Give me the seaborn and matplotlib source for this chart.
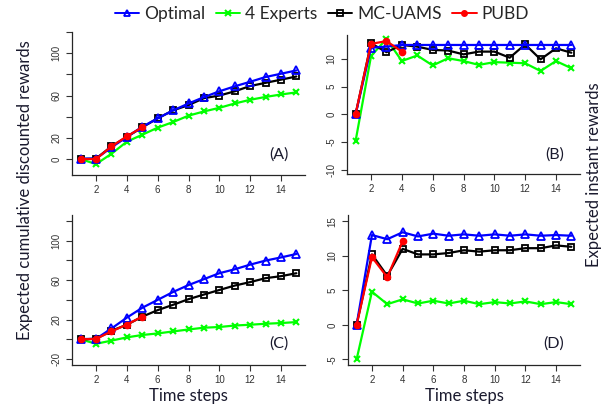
import numpy as np
import pandas as pd
import seaborn as sns
import matplotlib.pyplot as plt
from matplotlib.lines import Line2D

# Data
steps = list(range(1, 16))
pubd_steps = [1, 2, 3, 4, 5]
pubd_steps_inst = [1, 2, 3, 4]

# (A) cumulative discounted rewards
a_optimal = [0.5, 0.5, 11, 21, 30.5, 38.5, 46, 52.5, 58.5, 64, 68.7, 73, 77.5, 80.6, 83.7]
a_experts = [0, -4.7, 5, 16.5, 23, 29.7, 35, 41, 45, 48.4, 52.5, 56, 58.7, 61, 63]
a_mcuams = [0, 0.5, 12, 21, 30, 38.5, 46, 51, 57.5, 60, 64, 69, 72, 75, 78]
a_pubd = [0, 0, 12, 21.5, 30]

# (B) instant rewards
b_optimal = [0, 12.0, 12.2, 12.5, 12.5, 12.5, 12.5, 12.5, 12.5, 12.5, 12.5, 12.5, 12.5, 12.5, 12.5]
b_experts = [-4.8, 10.5, 13.6, 9.6, 10.6, 8.8, 10.1, 9.6, 8.9, 9.4, 9.3, 9.2, 7.8, 9.6, 8.3]
b_mcuams = [0, 12.8, 11.2, 12.5, 12.2, 11.6, 11.5, 10.8, 11.3, 11.3, 10.2, 12.6, 9.9, 11.9, 11.1]
b_pubd = [0.1, 12.7, 13.2, 11.3]

# (C) cumulative discounted rewards
c_optimal = [0.3, 0.5, 11, 22, 32, 40, 48, 55, 61, 67, 71, 75.7, 79.8, 83, 86.5]
c_experts = [0, -4.5, -1.3, 2, 4.4, 6, 8, 10, 11.8, 12.5, 14, 14.8, 15.8, 16.5, 17.5]
c_mcuams = [0, 0.5, 8.7, 14.8, 23, 29.6, 35, 40.7, 45.4, 50, 54.5, 58, 62, 64, 67]
c_pubd = [0, 0.5, 8, 15, 23]

# (D) instant rewards
d_optimal = [0, 13, 12.4, 13.4, 12.8, 13.2, 12.9, 13.1, 12.9, 13.1, 12.9, 13.1, 12.9, 13.0, 12.9]
d_experts = [-5, 4.8, 3.0, 3.7, 3.1, 3.5, 3.1, 3.5, 3.0, 3.3, 3.1, 3.4, 3.0, 3.3, 3.0]
d_mcuams = [0, 10.2, 7.1, 11, 10.2, 10.2, 10.4, 10.8, 10.6, 10.8, 10.8, 11.1, 11.1, 11.5, 11.3]
d_pubd = [0, 9.8, 6.9, 12.1]

methods = ['Optimal', '4 Experts', 'MC-UAMS', 'PUBD']

sns.set_style('ticks')
plt.rcParams['font.family'] = ['Liberation Sans', 'DejaVu Sans']

styles = {
    'Optimal': dict(color='#0000FF', marker='^', mfc='none', mec='#0000FF', ms=5.5, mew=1.3),
    '4 Experts': dict(color='#00FF00', marker='x', mec='#00FF00', ms=5, mew=1.5),
    'MC-UAMS': dict(color='black', marker='s', mfc='none', mec='black', ms=5, mew=1.3),
    'PUBD': dict(color='#FF0000', marker='o', mfc='#FF0000', mec='#FF0000', ms=4.5, mew=1),
}
zorders = {'Optimal': 4, '4 Experts': 2, 'MC-UAMS': 3, 'PUBD': 5}

fig = plt.figure(figsize=(6.08, 4.13), dpi=100)
W, H = 608, 413


def add_ax(l, r, t, b):
    return fig.add_axes([l / W, 1 - b / H, (r - l) / W, (b - t) / H])


ax_a = add_ax(72, 305, 32, 175)
ax_b = add_ax(347, 580, 35, 174)
ax_c = add_ax(72, 305, 215, 365)
ax_d = add_ax(348, 580, 215, 365)

panels = [
    (ax_a, [a_optimal, a_experts, a_mcuams, a_pubd], pubd_steps, '(A)',
     (-15, 120), [0, 20, 40, 60, 80, 100, 120], ['0', '20', '', '60', '', '100', '']),
    (ax_b, [b_optimal, b_experts, b_mcuams, b_pubd], pubd_steps_inst, '(B)',
     (-10.8, 14.3), [-10, -5, 0, 5, 10], ['-10', '-5', '0', '5', '10']),
    (ax_c, [c_optimal, c_experts, c_mcuams, c_pubd], pubd_steps, '(C)',
     (-26, 126), [-20, 0, 20, 40, 60, 80, 100, 120], ['-20', '', '20', '', '60', '', '100', '']),
    (ax_d, [d_optimal, d_experts, d_mcuams, d_pubd], pubd_steps_inst, '(D)',
     (-5.8, 15.9), [-5, 0, 5, 10, 15], ['-5', '0', '5', '10', '15']),
]

for ax, series, p_steps, label, ylim, yticks, ylabels in panels:
    for name, vals in zip(methods, series):
        xs = p_steps if name == 'PUBD' else steps
        df = pd.DataFrame({'step': xs, 'value': vals})
        sns.lineplot(data=df, x='step', y='value', ax=ax, lw=1.6,
                     linestyle='-', zorder=zorders[name], **styles[name])
    ax.set_xlim(0.44, 15.56)
    ax.set_ylim(*ylim)
    ax.set_xlabel('')
    ax.set_ylabel('')
    ax.set_xticks([2, 4, 6, 8, 10, 12, 14])
    ax.set_yticks(yticks)
    ax.set_yticklabels(ylabels, rotation=90, va='center')
    ax.tick_params(labelsize=7, colors='#333333', length=4, width=0.8)
    for s in ['top', 'right']:
        ax.spines[s].set_visible(False)
    for s in ['left', 'bottom']:
        ax.spines[s].set_linewidth(0.9)
    ax.text(0.93, 0.14, label, transform=ax.transAxes, ha='right', va='center',
            fontsize=11.5, family=['Lato', 'DejaVu Sans'], color='#1a1a2e')

lab_font = dict(fontsize=12, family=['Lato', 'DejaVu Sans'], color='#1a1a2e')
ax_c.set_xlabel('Time steps', labelpad=2, **lab_font)
ax_d.set_xlabel('Time steps', labelpad=2, **lab_font)
fig.text(25 / W, 1 - 190 / H, 'Expected cumulative discounted rewards',
         rotation=90, ha='center', va='center', **lab_font)
fig.text(594 / W, 1 - 175 / H, 'Expected instant rewards',
         rotation=90, ha='center', va='center', **lab_font)

handles = [Line2D([], [], lw=1.4, **{**styles[m], 'ms': 4}) for m in methods]
fig.legend(handles, methods, loc='center', bbox_to_anchor=(322 / W, 1 - 14 / H),
           ncol=4, frameon=False, handlelength=1.4, handletextpad=0.3,
           columnspacing=0.6, prop={'family': ['Lato', 'DejaVu Sans'], 'size': 12.5})

fig.savefig('out.png', dpi=100)
